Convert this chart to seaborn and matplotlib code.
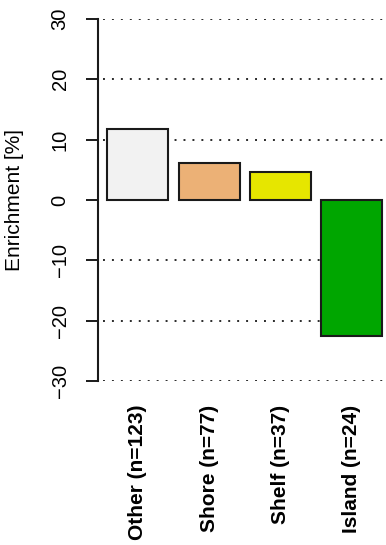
import matplotlib
matplotlib.use("Agg")
import matplotlib.pyplot as plt
import seaborn as sns
import pandas as pd

# Enrichment per genomic context
categories = ["Other (n=123)", "Shore (n=77)", "Shelf (n=37)", "Island (n=24)"]
enrichment = [11.8, 6.2, 4.6, -22.6]
colors = ["#F2F2F2", "#ECB176", "#E6E600", "#00A600"]
y_ticks = [-30, -20, -10, 0, 10, 20, 30]
grid_levels = [-30, -20, -10, 10, 20, 30]

sns.set_theme(style="white")
plt.rcParams["font.family"] = ["Liberation Sans", "DejaVu Sans"]
plt.rcParams["text.color"] = "black"
plt.rcParams["axes.labelcolor"] = "black"
plt.rcParams["xtick.color"] = "black"
plt.rcParams["ytick.color"] = "black"

df = pd.DataFrame({"category": categories, "enrichment": enrichment})

fig = plt.figure(figsize=(3.86, 5.45), dpi=100)
ax = fig.add_axes([98 / 386, 1 - 381 / 545, (386 - 98) / 386, (381 - 19) / 545])

x_left, x_right = -0.56, 3.48
ax.hlines(grid_levels, -0.49, x_right, colors="#2a2a2a",
          linestyles=(0, (1, 3.6)), linewidth=1.4, zorder=0)

sns.barplot(data=df, x="category", y="enrichment", hue="category",
            palette=colors, legend=False, width=0.855, saturation=1,
            edgecolor="#1a1a1a", linewidth=1.5, ax=ax, zorder=2)

ax.set_ylim(-30, 30)
ax.set_xlim(x_left, x_right)
ax.set_yticks(y_ticks)
ax.set_yticklabels([str(t).replace("-", "\u2212") for t in y_ticks],
                   rotation=90, va="center", fontsize=14.5)
ax.tick_params(axis="y", left=True, length=8.5, width=1.4, color="#1a1a1a", pad=12)
ax.tick_params(axis="x", bottom=False, length=0, pad=17)
ax.set_xticks(range(len(categories)))
ax.set_xticklabels(categories, rotation=90, fontsize=15, fontweight="bold",
                   ha="center", va="top")
ax.set_xlabel("")
ax.set_ylabel("Enrichment [%]", fontsize=15)
ax.yaxis.set_label_coords(-74 / 288, 0.5)

for side in ["top", "right", "bottom"]:
    ax.spines[side].set_visible(False)
ax.spines["left"].set_color("#1a1a1a")
ax.spines["left"].set_linewidth(1.5)

fig.savefig("out.png", dpi=100)
